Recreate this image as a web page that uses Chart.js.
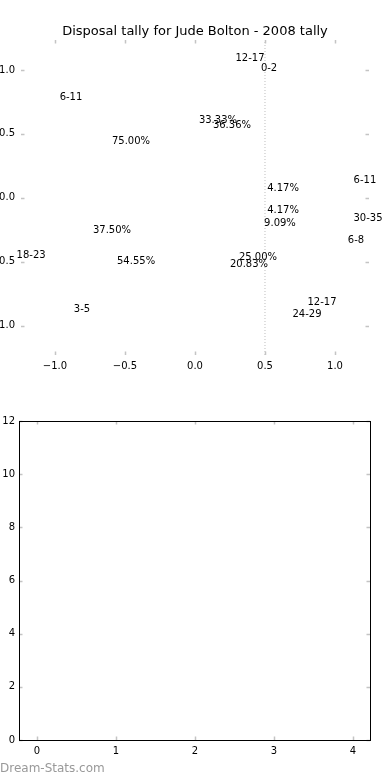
<!DOCTYPE html>
<html>
<head>
<meta charset="utf-8">
<title>Disposal tally for Jude Bolton - 2008 tally</title>
<script src="https://cdn.jsdelivr.net/npm/chart.js@4/dist/chart.umd.min.js"></script>
<style>
  html, body { margin: 0; padding: 0; background: #fff; overflow: hidden; }
  body { width: 390px; height: 780px; position: relative; }
  #pie-wrap { position: absolute; left: -20px; top: 0; }
  #bars-wrap { position: absolute; left: 0; top: 400px; }
  #marca { position: absolute; left: 0; top: 761px; font: 12px "DejaVu Sans", sans-serif; color: #999; }
</style>
</head>
<body>
<div id="pie-wrap"><canvas id="chart-pie" width="430" height="390"></canvas></div>
<div id="bars-wrap"><canvas id="chart-vacio" width="390" height="380"></canvas></div>
<div id="marca">Dream-Stats.com</div>
<script>
// textos de la tarta (sin cuñas) y su posición en coordenadas de datos
const etiquetas = ['12-17', '0-2', '6-11', '33.33%', '36.36%', '75.00%', '4.17%', '6-11', '4.17%', '9.09%',
  '30-35', '37.50%', '6-8', '18-23', '54.55%', '25.00%', '20.83%', '12-17', '24-29', '3-5'];
const etiquetasX = [0.393, 0.529, -0.886, 0.164, 0.264, -0.457, 0.629, 1.214, 0.629, 0.607,
  1.236, -0.593, 1.150, -1.171, -0.421, 0.450, 0.386, 0.907, 0.800, -0.807];
const etiquetasY = [1.102, 1.023, 0.797, 0.617, 0.578, 0.453, 0.086, 0.148, -0.086, -0.188,
  -0.148, -0.242, -0.320, -0.438, -0.484, -0.453, -0.508, -0.805, -0.898, -0.859];
const lineaX = 0.5;
const ticksPieX = [-1.0, -0.5, 0.0, 0.5, 1.0];
const ticksPieY = [-1.0, -0.5, 0.0, 0.5, 1.0];
const limitePieX = [-1.243, 1.243];
const limitePieY = [-1.23, 1.234];

// segundo gráfico, vacío
const ticksVacioX = [0, 1, 2, 3, 4];
const ticksVacioY = [0, 2, 4, 6, 8, 10, 12];
const limiteVacioX = [-0.228, 4.215];
const limiteVacioY = [0, 12];

const fuente = '"DejaVu Sans", sans-serif';
const unDecimal = v => (v < 0 ? '\u2212' : '') + Math.abs(v).toFixed(1);

// marcas de los ejes hacia dentro, en los cuatro lados
const marcasDentro = {
  id: 'marcasDentro',
  afterDraw(chart, args, opts) {
    const { ctx, chartArea: a, scales } = chart;
    ctx.save();
    ctx.strokeStyle = '#c4c4c4';
    ctx.lineWidth = 1.5;
    ctx.beginPath();
    scales.x.ticks.forEach(t => {
      const px = Math.round(scales.x.getPixelForValue(t.value)) + 0.5;
      ctx.moveTo(px, a.top); ctx.lineTo(px, a.top + 3.5);
      ctx.moveTo(px, a.bottom); ctx.lineTo(px, a.bottom - 3.5);
    });
    scales.y.ticks.forEach(t => {
      const py = Math.round(scales.y.getPixelForValue(t.value)) + 0.5;
      ctx.moveTo(a.left, py); ctx.lineTo(a.left + 3.5, py);
      ctx.moveTo(a.right, py); ctx.lineTo(a.right - 3.5, py);
    });
    ctx.stroke();
    if (opts.marco) {
      ctx.strokeStyle = '#000';
      ctx.lineWidth = 1;
      ctx.strokeRect(Math.round(a.left) + 0.5, Math.round(a.top) + 0.5, Math.round(a.right - a.left), Math.round(a.bottom - a.top));
    }
    ctx.restore();
  }
};

// dibuja los textos en la posición de cada punto
const textos = {
  id: 'textos',
  afterDatasetsDraw(chart) {
    const { ctx } = chart;
    chart.data.datasets.forEach((ds, i) => {
      if (!ds.textos) return;
      const meta = chart.getDatasetMeta(i);
      ctx.save();
      ctx.font = '10px ' + fuente;
      ctx.fillStyle = '#000';
      ctx.textAlign = 'center';
      ctx.textBaseline = 'middle';
      // +1.5 px: centra la caja visible del texto, como matplotlib
      meta.data.forEach((p, j) => ctx.fillText(ds.textos[j], p.x, p.y + 1.5));
      ctx.restore();
    });
  }
};

const fijarTicks = vals => scale => { scale.ticks = vals.map(v => ({ value: v })); };
const sinRejilla = { display: false, drawTicks: false };

new Chart(document.getElementById('chart-pie'), {
  type: 'scatter',
  data: {
    datasets: [
      {
        type: 'line',
        data: [{ x: lineaX, y: limitePieY[0] }, { x: lineaX, y: limitePieY[1] }],
        borderColor: '#bdbdbd', borderWidth: 1, borderDash: [1, 2], pointRadius: 0, fill: false
      },
      {
        data: etiquetas.map((t, i) => ({ x: etiquetasX[i], y: etiquetasY[i] })),
        textos: etiquetas,
        pointRadius: 0
      }
    ]
  },
  options: {
    responsive: false,
    animation: false,
    layout: { padding: 0 },
    plugins: {
      legend: { display: false },
      tooltip: { enabled: false },
      title: {
        display: true,
        text: 'Disposal tally for Jude Bolton - 2008 tally',
        color: '#000',
        font: { family: fuente, size: 13, weight: 'normal' },
        padding: { top: 24, bottom: 0.4 }
      },
      marcasDentro: { marco: false }
    },
    scales: {
      x: {
        type: 'linear', min: limitePieX[0], max: limitePieX[1],
        afterBuildTicks: fijarTicks(ticksPieX),
        afterFit: s => { s.height = 35; },
        grid: sinRejilla, border: { display: false },
        ticks: { color: '#000', padding: 5, font: { family: fuente, size: 10 }, callback: v => unDecimal(v) }
      },
      y: {
        type: 'linear', min: limitePieY[0], max: limitePieY[1],
        afterBuildTicks: fijarTicks(ticksPieY),
        afterFit: s => { s.width = 41; },
        grid: sinRejilla, border: { display: false },
        ticks: { color: '#000', padding: 6, font: { family: fuente, size: 10 }, callback: v => unDecimal(v) }
      },
      y2: {
        type: 'linear', position: 'right', min: limitePieY[0], max: limitePieY[1],
        afterFit: s => { s.width = 41; },
        grid: sinRejilla, border: { display: false },
        ticks: { display: false }
      }
    }
  },
  plugins: [marcasDentro, textos]
});

new Chart(document.getElementById('chart-vacio'), {
  type: 'scatter',
  data: { datasets: [{ data: [], pointRadius: 0 }] },
  options: {
    responsive: false,
    animation: false,
    layout: { padding: { top: 21, right: 20 } },
    plugins: {
      legend: { display: false },
      tooltip: { enabled: false },
      marcasDentro: { marco: true }
    },
    scales: {
      x: {
        type: 'linear', min: limiteVacioX[0], max: limiteVacioX[1],
        afterBuildTicks: fijarTicks(ticksVacioX),
        afterFit: s => { s.height = 40; },
        grid: sinRejilla, border: { display: false },
        ticks: { color: '#000', padding: 5, font: { family: fuente, size: 10 }, callback: v => String(v) }
      },
      y: {
        type: 'linear', min: limiteVacioY[0], max: limiteVacioY[1],
        afterBuildTicks: fijarTicks(ticksVacioY),
        afterFit: s => { s.width = 19; },
        grid: sinRejilla, border: { display: false },
        ticks: { color: '#000', padding: 4, font: { family: fuente, size: 10 }, callback: v => String(v) }
      }
    }
  },
  plugins: [marcasDentro]
});
</script>
</body>
</html>
